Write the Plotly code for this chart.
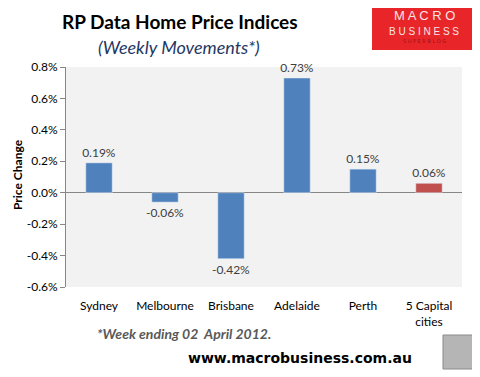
import plotly.graph_objects as go

categories = ["Sydney", "Melbourne", "Brisbane", "Adelaide", "Perth", "5 Capital<br>cities"]
values = [0.19, -0.06, -0.42, 0.73, 0.15, 0.06]
labels = ["0.19%", "-0.06%", "-0.42%", "0.73%", "0.15%", "0.06%"]
colors = ["#4f81bd", "#4f81bd", "#4f81bd", "#4f81bd", "#4f81bd", "#c0504d"]
tick_vals = [0.8, 0.6, 0.4, 0.2, 0.0, -0.2, -0.4, -0.6]
tick_text = ["0.8%", "0.6%", "0.4%", "0.2%", "0.0%", "-0.2%", "-0.4%", "-0.6%"]

FONT = "Lato, Open Sans, sans-serif"

# The page body has an 8px default margin; lay out in screen pixels and offset.
OFF = 8
W, H = 480 - OFF, 377 - OFF
L, R, T, B = 66 - OFF, 18, 67 - OFF, 90

fig = go.Figure(go.Bar(
    x=categories, y=values, marker_color=colors, width=0.4,
    text=labels, textposition="outside", cliponaxis=False, constraintext="none",
    textfont=dict(size=12, color="#404040", family=FONT),
))

fig.update_layout(
    width=W, height=H,
    margin=dict(l=L, r=R, t=T, b=B),
    paper_bgcolor="white", plot_bgcolor="#f2f2f2",
    showlegend=False,
    font=dict(family=FONT, size=12, color="#000000"),
    bargap=0.6,
)
fig.update_xaxes(showgrid=False, showline=False, ticks="", ticklabelstandoff=10,
                 tickfont=dict(size=12, color="#000"))
fig.update_yaxes(range=[-0.6, 0.8], tickvals=tick_vals, ticktext=tick_text,
                 showgrid=False, showline=True, linecolor="#868686", linewidth=1,
                 ticks="outside", ticklen=5, tickcolor="#868686",
                 zeroline=True, zerolinecolor="#868686", zerolinewidth=1,
                 tickfont=dict(size=12, color="#000"))

pw, ph = W - L - R, H - T - B

def px2paper(px, py):
    fx, fy = px - OFF, py - OFF
    return (fx - L) / pw, (H - B - fy) / ph

def note(text, px, py, size, color, family=FONT, xanchor="center", angle=0):
    x, y = px2paper(px, py)
    fig.add_annotation(text=text, xref="paper", yref="paper", x=x, y=y,
                       xanchor=xanchor, yanchor="middle", showarrow=False, textangle=angle,
                       font=dict(size=size, color=color, family=family))

note("<b>RP Data Home Price Indices</b>", 180, 22, 19, "#000")
note("<i>(Weekly Movements*)</i>", 179, 47, 18, "#1f3864")
note("<b>Price Change</b>", 17, 175, 12, "#000", angle=-90)
note("<b><i>*Week ending 02  April 2012.</i></b>", 95, 333, 14, "#595959", xanchor="left")
note("<b>www.macrobusiness.com.au</b>", 300, 358, 14, "#000", family="DejaVu Sans")
note("M A C R O", 424, 16, 13, "#f7e4e4", family="Liberation Sans")
note("B U S I N E S S", 424, 31, 10, "#f7e4e4", family="Liberation Sans")
note("S U P E R B L O G", 424, 41, 5, "#a01010", family="DejaVu Sans")

def rect(x0, y0, x1, y1, **kw):
    a0, b1 = px2paper(x0, y0)
    a1, b0 = px2paper(x1, y1)
    fig.add_shape(type="rect", xref="paper", yref="paper",
                  x0=a0, x1=a1, y0=b0, y1=b1, layer="below", **kw)

rect(372, 8, 476, 50, fillcolor="#e8262a", line=dict(width=0))
rect(443, 335, 477, 369, fillcolor="#b5b5b5", line=dict(color="#8a8a8a", width=1))

fig.write_html("out.html")
